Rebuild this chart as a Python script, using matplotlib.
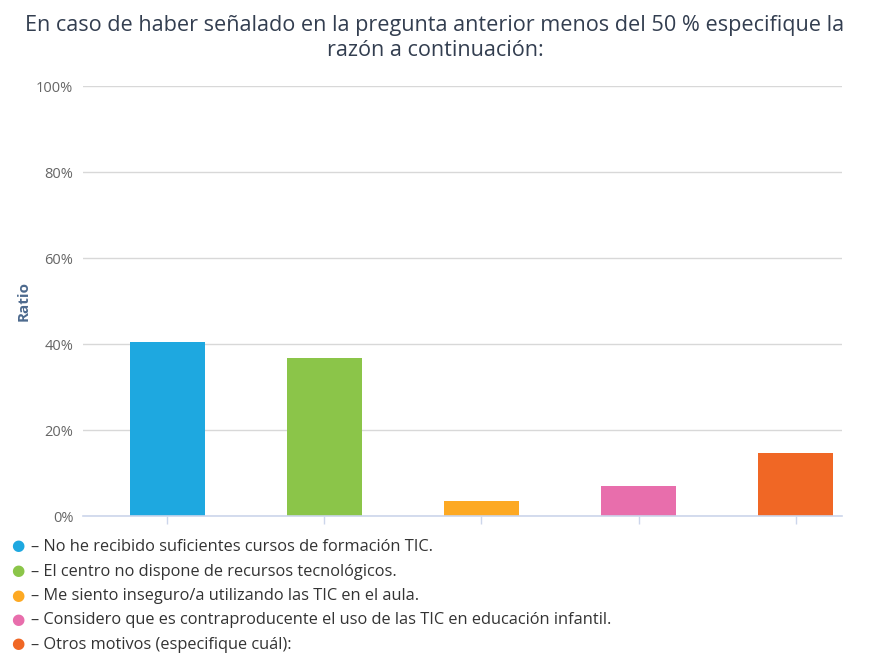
import matplotlib
matplotlib.use("Agg")
import matplotlib.pyplot as plt
from matplotlib.ticker import FuncFormatter

categories = [
    "No he recibido suficientes cursos de formación TIC.",
    "El centro no dispone de recursos tecnológicos.",
    "Me siento inseguro/a utilizando las TIC en el aula.",
    "Considero que es contraproducente el uso de las TIC en educación infantil.",
    "Otros motivos (especifique cuál):",
]
values = [40.5, 36.7, 3.5, 7.0, 14.7]
colors = ["#1EA8E0", "#8BC549", "#FDA923", "#E86EAC", "#F06725"]
yticks = [0, 20, 40, 60, 80, 100]
title = "En caso de haber señalado en la pregunta anterior menos del 50 % especifique la\nrazón a continuación:"

plt.rcParams['font.family'] = ['Open Sans', 'DejaVu Sans']

W, H = 870, 655
fig = plt.figure(figsize=(W / 100, H / 100), dpi=100)
ax = fig.add_axes([83 / W, 1 - 516 / H, (842 - 83) / W, (516 - 86) / H])

x = list(range(len(values)))
ax.bar(x, values, width=0.477, color=colors, zorder=3)
ax.set_xlim(-0.538, 4.296)
ax.set_ylim(0, 100)
ax.set_yticks(yticks)
ax.yaxis.set_major_formatter(FuncFormatter(lambda v, p: f"{int(v)}%"))
ax.grid(axis='y', color='#d8d8d8', linewidth=1, zorder=0)
for s in ['top', 'right', 'left']:
    ax.spines[s].set_visible(False)
ax.spines['bottom'].set_color('#ccd6eb')
ax.spines['bottom'].set_linewidth(1.2)
ax.spines['bottom'].set_zorder(4)
ax.set_xticks(x)
ax.set_xticklabels([])
ax.tick_params(axis='x', length=6, color='#ccd6eb', width=1)
ax.tick_params(axis='y', length=0, labelsize=10.5, labelcolor='#666666', pad=7)
ax.set_ylabel("Ratio", fontsize=11, fontweight='bold', color='#4d6a8e', labelpad=4)

fig.text(0.5, 1 - 38 / H, title, ha='center', va='center', fontsize=15.6,
         color='#333e50', linespacing=1.3)

for i, (c, col) in enumerate(zip(categories, colors)):
    yy = 1 - (547 + 24.5 * i) / H
    fig.text(18 / W, yy, "●", color=col, fontsize=11, ha='center', va='center')
    fig.text(31 / W, yy, "– " + c, color='#333333', fontsize=11.8, ha='left', va='center')

fig.savefig("out.png", dpi=100)
